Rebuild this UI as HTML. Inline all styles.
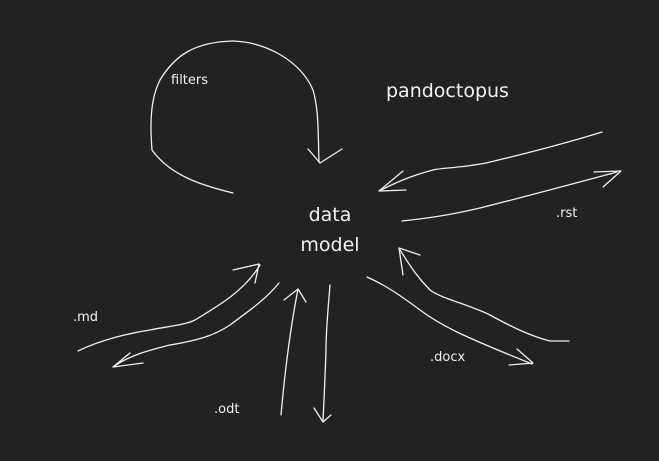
<!DOCTYPE html>
<html><head><style>
html,body{margin:0;padding:0;background:#222222;}
svg{display:block}
text{font-family:"DejaVu Sans","Liberation Sans",sans-serif;fill:#f2f2f2}
</style></head><body>
<svg width="659" height="461" viewBox="0 0 659 461" xmlns="http://www.w3.org/2000/svg">
<rect width="659" height="461" fill="#222222"/>
<g fill="none" stroke="#f0f0f0" stroke-width="1.3" stroke-linecap="round" stroke-linejoin="round">
<path d="M233,193 C200,185 170,175 152,150 C150,125 150,100 160,80 C175,55 195,42 233,41 C265,42 300,60 313,90 C319,110 318,135 319,162"/>
<path d="M308,149 L320,163 L342,149"/>
<path d="M602,132 C560,145 520,155 486,163 C460,168 440,168 433,170 C410,176 395,183 379,191"/>
<path d="M403,171 L379,191 L406,190"/>
<path d="M402,221 C430,218 450,215 480,208 C520,198 550,190 617,172"/>
<path d="M594,172 L621,171 L603,187"/>
<path d="M569,341 L550,341 C530,336 510,326 490,315 C470,305 440,298 430,290 C415,275 408,262 400,250"/>
<path d="M403,275 L399,248 L420,255"/>
<path d="M367,277 C385,285 400,295 420,310 C440,325 460,335 532,364"/>
<path d="M517,349 L533,363 L509,365"/>
<path d="M78,351 C100,340 130,333 150,330 C170,326 185,325 195,320 C220,305 245,290 260,265"/>
<path d="M233,270 L259,264 L255,283"/>
<path d="M279,283 C265,300 250,310 230,325 C215,335 200,340 170,345 C150,350 130,355 113,367"/>
<path d="M130,353 L113,367 L143,363"/>
<path d="M281,415 C285,370 290,330 298,289"/>
<path d="M284,300 L298,289 L306,302"/>
<path d="M330,285 C328,310 326,330 326,350 C325,380 324,400 323,421"/>
<path d="M314,408 L323,422 L331,415"/>
</g>
<text x="171" y="84" font-size="13">filters</text>
<text x="386" y="97" font-size="19">pandoctopus</text>
<text x="330" y="221" font-size="19" text-anchor="middle">data</text>
<text x="330" y="251" font-size="19" text-anchor="middle">model</text>
<text x="556" y="217" font-size="13">.rst</text>
<text x="73" y="321" font-size="13">.md</text>
<text x="430" y="361" font-size="13">.docx</text>
<text x="214" y="413" font-size="13">.odt</text>
</svg>
</body></html>
